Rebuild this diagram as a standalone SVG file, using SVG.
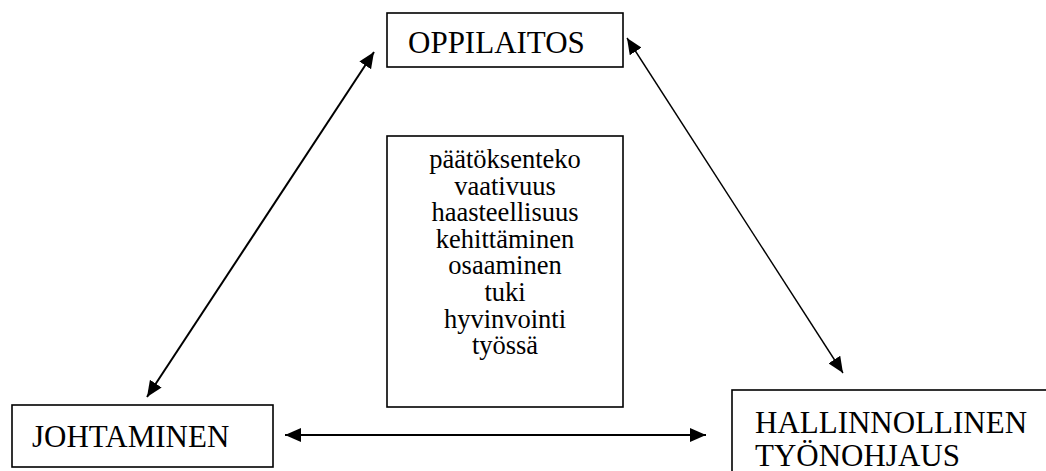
<svg xmlns="http://www.w3.org/2000/svg" width="1046" height="471" viewBox="0 0 1046 471">
  <style>
    .box { fill: #ffffff; stroke: #000000; stroke-width: 1.6; }
    .lbl { font-family: "Liberation Serif", "Times New Roman", serif; font-size: 31px; fill: #000000; }
    .mid { font-family: "Liberation Serif", "Times New Roman", serif; font-size: 26.5px; fill: #000000; text-anchor: middle; }
    .conn { stroke: #000000; fill: none; marker-start: url(#ah); marker-end: url(#ah); }
  </style>
  <defs>
    <marker id="ah" markerUnits="userSpaceOnUse" markerWidth="18" markerHeight="14" refX="16" refY="7" orient="auto-start-reverse">
      <path d="M0,0 L16,7 L0,14 z" fill="#000000"/>
    </marker>
  </defs>
  <rect width="1046" height="471" fill="#ffffff"/>

  <g id="oppilaitos">
    <rect class="box" x="387" y="13" width="236" height="54"/>
    <text class="lbl" x="408" y="53">OPPILAITOS</text>
  </g>

  <g id="keskus">
    <rect class="box" x="387" y="136" width="236" height="271"/>
    <text class="mid" x="505" y="168">päätöksenteko</text>
    <text class="mid" x="505" y="194.6">vaativuus</text>
    <text class="mid" x="505" y="221.2">haasteellisuus</text>
    <text class="mid" x="505" y="247.8">kehittäminen</text>
    <text class="mid" x="505" y="274.4">osaaminen</text>
    <text class="mid" x="505" y="301">tuki</text>
    <text class="mid" x="505" y="327.6">hyvinvointi</text>
    <text class="mid" x="505" y="354.2">työssä</text>
  </g>

  <g id="johtaminen">
    <rect class="box" x="12" y="405" width="261" height="62"/>
    <text class="lbl" x="32" y="447">JOHTAMINEN</text>
  </g>

  <g id="hallinnollinen">
    <rect class="box" x="732" y="390" width="330" height="90"/>
    <text class="lbl" x="755" y="433">HALLINNOLLINEN</text>
    <text class="lbl" x="755" y="466">TYÖNOHJAUS</text>
  </g>

  <g id="connectors">
    <line class="conn" x1="147" y1="397" x2="374" y2="52" stroke-width="2"/>
    <line class="conn" x1="627" y1="38" x2="843" y2="373" stroke-width="1.4"/>
    <line class="conn" x1="285" y1="435" x2="706" y2="435" stroke-width="2"/>
  </g>
</svg>
